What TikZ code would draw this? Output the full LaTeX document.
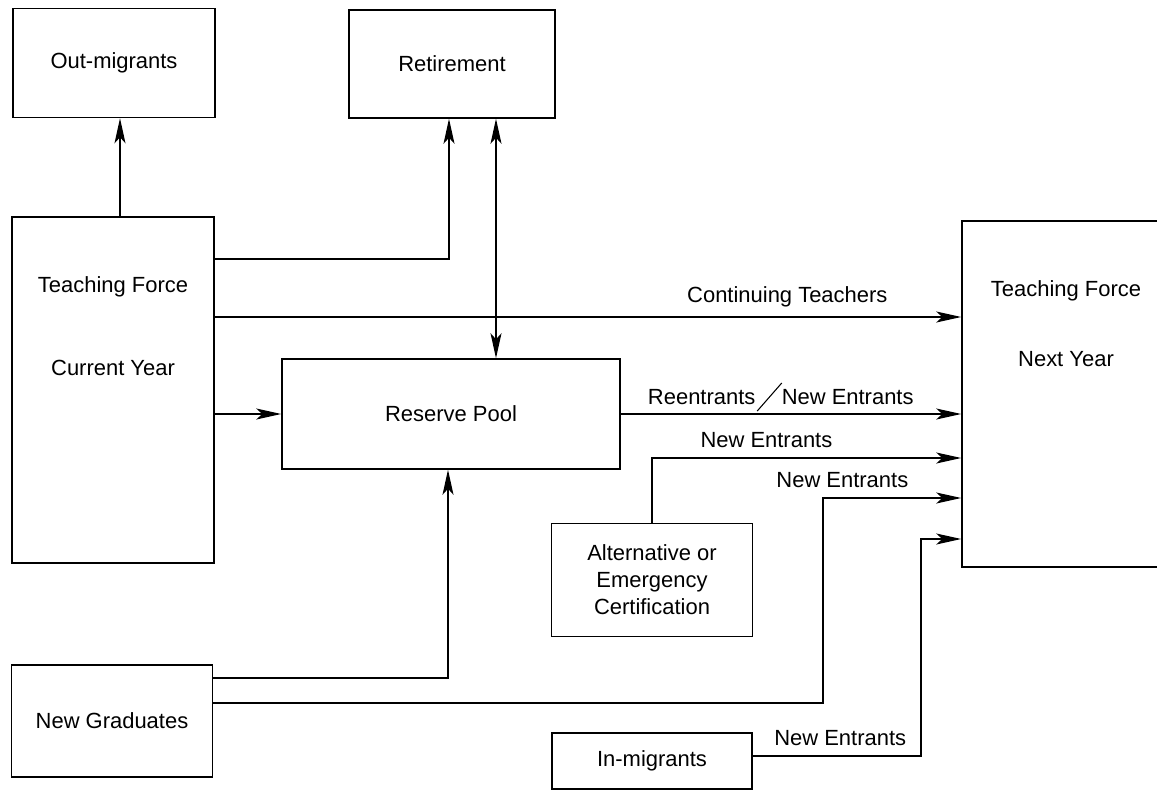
\documentclass[tikz,border=0pt]{standalone}
\usepackage{fontspec}
\setmainfont{Liberation Sans}
\usepackage{tikz}
\usetikzlibrary{arrows.meta, positioning, calc}

\begin{document}
\begin{tikzpicture}[x=0.02cm, y=-0.02cm, >={Stealth[length=0.5cm, width=0.22cm, inset=0.12cm]},
    font=\fontsize{12.5}{15.3}\selectfont]
    \tikzset{box/.style = {rectangle, draw, line width=0.9pt, align=center, inner sep=0pt}}
    \tikzset{label/.style = {inner sep=1pt}}
    \tikzset{arrow/.style = {draw, ->, line width=0.8pt}}
    \tikzset{dblarrow/.style = {draw, <->, line width=0.8pt}}

    \useasboundingbox (0,0) rectangle (1157,791);

    % Boxes
    \node [box, minimum width=4.04cm, minimum height=2.18cm] (outm) at (114,63) {Out-migrants};
    \node [box, minimum width=4.12cm, minimum height=2.16cm] (retire) at (452,64) {Retirement};
    \node [box, minimum width=4.04cm, minimum height=6.92cm] (tfcur) at (113,390) {};
    \node [label] (tfcurtop) at (113,287) {Teaching Force};
    \node [label] (tfcurbot) at (113,368) {Current Year};
    \node [box, minimum width=6.76cm, minimum height=2.2cm] (pool) at (451,414) {Reserve Pool};
    \node [box, minimum width=4.02cm, minimum height=2.26cm] (altcert) at (652,580) {Alternative or\\Emergency\\Certification};
    \node [box, minimum width=4.02cm, minimum height=2.24cm] (newgrad) at (112,721) {New Graduates};
    \node [box, minimum width=4.0cm, minimum height=1.12cm] (inmig) at (652,761) {In-migrants};
    \node [box, minimum width=4.16cm, minimum height=6.92cm] (tfnext) at (1066,394) {};
    \node [label] (tfnexttop) at (1066,291) {Teaching Force};
    \node [label] (tfnextbot) at (1066,359) {Next Year};

    \coordinate (gradbend) at (823,498);
    \coordinate (migbend) at (921,539);

    % Connections
    \draw [arrow] (tfcur.north -| 120,0) -- (outm.south -| 120,0);
    \draw [arrow] (tfcur.east |- 0,259) -| (retire.south -| 449,0);
    \draw [dblarrow] (retire.south -| 496,0) -- (pool.north -| 496,0);
    \draw [arrow] (tfcur.east |- 0,317) -- node [above=2pt, pos=0.767] {Continuing Teachers} (tfnext.west |- 0,317);
    \draw [arrow] (tfcur.east |- pool.west) -- (pool.west);
    \draw [arrow] (pool.east) -- node [above=2pt, pos=0.47] {Reentrants\tikz[baseline=0pt]{\path (0pt,0pt) rectangle (15pt,1pt); \draw[-, line width=0.6pt, overlay] (1pt,-4pt) -- (15pt,12pt);}New Entrants} (pool.east -| tfnext.west);
    \draw [arrow] (altcert.north) |- node [above=2pt, pos=0.685] {New Entrants} (tfnext.west |- 0,458);
    \draw [arrow] (newgrad.east |- 0,678) -| (pool.south -| 448,0);
    \draw [arrow] (newgrad.east |- 0,703) -| (gradbend) -- node [above=2pt, pos=0.14] {New Entrants} (gradbend -| tfnext.west);
    \draw [arrow] (inmig.east |- 0,756) -| node [above=2pt, pos=0.26] {New Entrants} (migbend) -- (migbend -| tfnext.west);
\end{tikzpicture}
\end{document}
